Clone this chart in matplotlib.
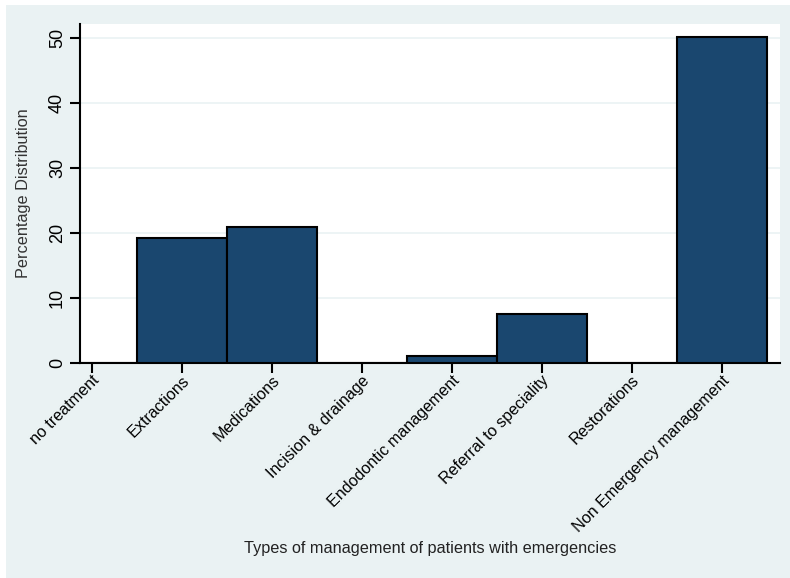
import matplotlib.pyplot as plt
from matplotlib.patches import Rectangle
import numpy as np

categories = ["no treatment", "Extractions", "Medications", "Incision & drainage",
              "Endodontic management", "Referral to speciality", "Restorations",
              "Non Emergency management"]
percent = [0.0, 19.3, 21.0, 0.0, 1.1, 7.5, 0.0, 50.2]


def plot(cats, vals):
    plt.rcParams['font.family'] = ['Liberation Sans', 'DejaVu Sans']
    W, H = 790, 578
    fig = plt.figure(figsize=(W / 100, H / 100), dpi=100)
    fig.patch.set_facecolor('white')
    # stata-like light blue backdrop
    fig.add_artist(Rectangle((6 / W, 0), 1 - 6 / W, 1 - 5 / H, transform=fig.transFigure,
                             facecolor='#EAF2F3', edgecolor='none', zorder=0))

    ax = fig.add_axes([80 / W, 1 - 363 / H, 700 / W, (363 - 24) / H])
    ax.set_facecolor('white')
    x = np.arange(len(cats))
    ax.bar(x, vals, width=1.0, color='#1A476F', edgecolor='black', linewidth=1.5, zorder=3)

    ax.set_xlim(-0.13, 7.65)
    ax.set_ylim(0, 52.2)
    ax.set_yticks([0, 10, 20, 30, 40, 50])
    ax.yaxis.grid(True, color='#EAF2F3', linewidth=1.2, zorder=0)
    ax.set_axisbelow(True)
    for s in ['top', 'right']:
        ax.spines[s].set_visible(False)
    for s in ['left', 'bottom']:
        ax.spines[s].set_linewidth(1.5)
        ax.spines[s].set_color('black')

    ax.tick_params(axis='y', length=7, width=1.5, labelsize=13, pad=3)
    for t in ax.get_yticklabels():
        t.set_rotation(90)
        t.set_va('center')
    ax.tick_params(axis='x', length=7, width=1.5, labelsize=11.6, pad=0)
    ax.set_xticks(x)
    ax.set_xticklabels(cats, rotation=45, ha='right', va='top', rotation_mode='anchor')

    ax.set_ylabel('Percentage Distribution', fontsize=11.7, color='#333333', labelpad=13)
    fig.text(430 / W, 1 - 549 / H, 'Types of management of patients with emergencies',
             ha='center', va='center', fontsize=11.7, color='#222222')

    fig.savefig('out.png', dpi=100, facecolor=fig.get_facecolor())


plot(categories, percent)
